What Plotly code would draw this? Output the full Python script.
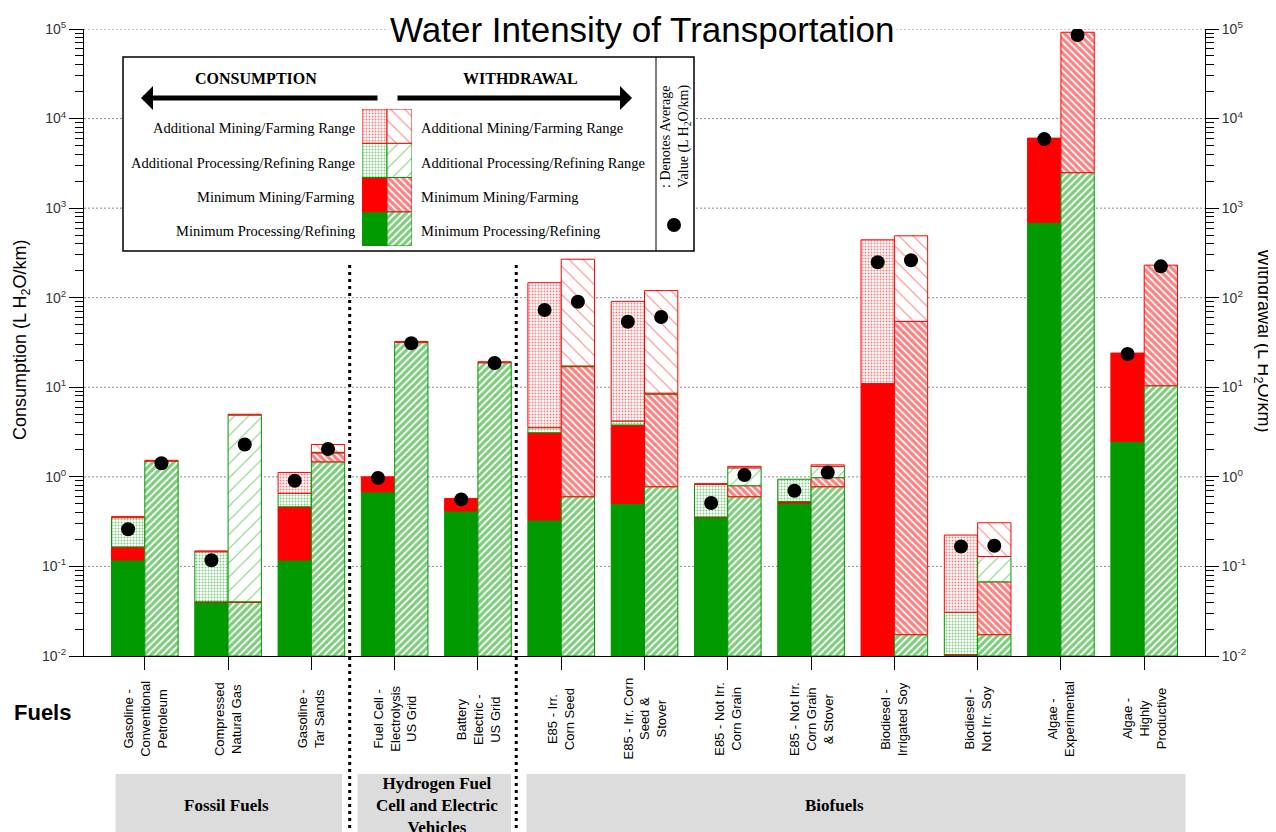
import plotly.graph_objects as go

# ---------------- data ----------------
fuel_labels = [
    "Gasoline -<br>Conventional<br>Petroleum",
    "Compressed<br>Natural Gas",
    "Gasoline -<br>Tar Sands",
    "Fuel Cell -<br>Electrolysis<br>US Grid",
    "Battery<br>Electric -<br>US Grid",
    "E85 - Irr.<br>Corn Seed",
    "E85 - Irr. Corn<br>Seed &<br>Stover",
    "E85 - Not Irr.<br>Corn Grain",
    "E85 - Not Irr.<br>Corn Grain<br>& Stover",
    "Biodiesel -<br>Irrigated Soy",
    "Biodiesel -<br>Not Irr. Soy",
    "Algae -<br>Experimental",
    "Algae -<br>Highly<br>Productive",
]
group_names = ["Fossil Fuels", "Hydrogen Fuel<br>Cell and Electric<br>Vehicles", "Biofuels"]

# Consumption: cumulative tops of each stacked segment (L H2O/km)
cons_min_processing = [0.118, 0.0397, 0.118, 0.68, 0.416, 0.33, 0.506, 0.35, 0.51, 0.01, 0.01, 695, 2.49]
cons_min_mining     = [0.165, 0.0403, 0.464, 1.0, 0.575, 3.11, 3.79, 0.356, 0.53, 11.0, 0.0104, 6050, 24.1]
cons_add_processing = [0.35, 0.146, 0.655, 1.0, 0.575, 3.54, 4.2, 0.825, 0.94, 11.0, 0.0308, 6050, 24.1]
cons_add_mining     = [0.36, 0.149, 1.12, 1.0, 0.575, 147, 91, 0.84, 0.94, 443, 0.224, 6050, 24.1]
cons_average        = [0.26, 0.117, 0.906, 0.97, 0.56, 73, 54, 0.51, 0.70, 249, 0.167, 5900, 23.5]

# Withdrawal: cumulative tops of each stacked segment (L H2O/km)
wd_min_processing = [1.50, 0.0397, 1.47, 31.8, 18.8, 0.60, 0.776, 0.60, 0.776, 0.0173, 0.0173, 2490, 10.4]
wd_min_mining     = [1.53, 0.0403, 1.85, 32.5, 19.3, 17.0, 8.4, 0.796, 0.98, 54.5, 0.0673, 92000, 231]
wd_add_processing = [1.53, 4.9, 1.88, 32.5, 19.3, 17.3, 8.6, 1.26, 1.31, 54.5, 0.129, 92000, 231]
wd_add_mining     = [1.53, 5.0, 2.3, 32.5, 19.3, 269, 120, 1.31, 1.36, 491, 0.307, 92000, 231]
wd_average        = [1.42, 2.3, 2.05, 31, 18.7, 90, 61, 1.05, 1.12, 262, 0.17, 85800, 224]

legend_rows = ["Minimum Processing/Refining", "Minimum Mining/Farming",
               "Additional Processing/Refining Range", "Additional Mining/Farming Range"]

tick_exps = [-2, -1, 0, 1, 2, 3, 4, 5]

# ---------------- styles ----------------
GREEN = "rgb(0,153,0)"
RED = "rgb(255,0,0)"
FLOOR = 0.01
SERIF = "Liberation Serif, Times New Roman, serif"
SANS = "Liberation Sans, Arial, sans-serif"


def mk(kind, col):
    c = GREEN if col == "g" else RED
    if kind == "solid":
        return dict(color=c, line=dict(color=c, width=1))
    if kind == "dots":
        return dict(color="white", line=dict(color=c, width=1),
                    pattern=dict(shape=".", fgcolor=c, bgcolor="white", size=3, solidity=0.35))
    if kind == "dense":
        return dict(color="white", line=dict(color=c, width=1),
                    pattern=dict(shape="/" if col == "g" else "\\", fgcolor=c, bgcolor="white",
                                 size=5, solidity=0.65))
    return dict(color="white", line=dict(color=c, width=1),
                pattern=dict(shape="/" if col == "g" else "\\", fgcolor=c, bgcolor="white",
                             size=10, solidity=0.1))


cons_styles = [mk("solid", "g"), mk("solid", "r"), mk("dots", "g"), mk("dots", "r")]
wd_styles = [mk("dense", "g"), mk("dense", "r"), mk("sparse", "g"), mk("sparse", "r")]

n = len(fuel_labels)
fig = go.Figure()


def add_stack(tops_list, styles, offset, yaxis):
    prev = [FLOOR] * n
    for tops, st in zip(tops_list, styles):
        bases, heights = [], []
        for p, t in zip(prev, tops):
            h = t - p
            if h <= 1e-9:
                bases.append(None)
                heights.append(None)
            else:
                bases.append(p)
                heights.append(h)
        fig.add_trace(go.Bar(x=[i + offset for i in range(n)], y=heights, base=bases,
                             width=0.4, marker=st, yaxis=yaxis, showlegend=False,
                             hoverinfo="skip"))
        prev = [max(p, t) for p, t in zip(prev, tops)]


add_stack([cons_min_processing, cons_min_mining, cons_add_processing, cons_add_mining],
          cons_styles, -0.2, "y")
add_stack([wd_min_processing, wd_min_mining, wd_add_processing, wd_add_mining],
          wd_styles, 0.2, "y2")

fig.add_trace(go.Scatter(x=[i - 0.2 for i in range(n)], y=cons_average, mode="markers",
                         marker=dict(color="black", size=14), yaxis="y", showlegend=False))
fig.add_trace(go.Scatter(x=[i + 0.2 for i in range(n)], y=wd_average, mode="markers",
                         marker=dict(color="black", size=14), yaxis="y2", showlegend=False))

# legend swatches (inset axes)
for row in range(4):
    for col, st in enumerate([cons_styles[row], wd_styles[row]]):
        fig.add_trace(go.Bar(x=[col], y=[1], base=[row], width=1, marker=st,
                             xaxis="x3", yaxis="y3", showlegend=False, hoverinfo="skip"))

# ---------------- geometry helpers (reference-pixel coordinates) ----------------
OFF = 8                       # page body margin
L, R, T, B = 84, 1205, 29, 656
W, H = 1276 - OFF, 832 - OFF


def px(x):
    return (x - L) / (R - L)


def py(y):
    return (B - y) / (B - T)


ticktext = ["10<sup>%d</sup>" % e for e in tick_exps]
tickvals = [10.0 ** e for e in tick_exps]
minor_vals = [m * 10.0 ** e for e in tick_exps[:-1] for m in range(2, 10)]

yax_common = dict(type="log", range=[-2, 5], showline=True, linecolor="black", linewidth=1,
                  ticks="outside", tickcolor="black", tickvals=tickvals, ticktext=ticktext,
                  tickfont=dict(family=SANS, size=14, color="#333333"), showgrid=False,
                  zeroline=False, fixedrange=True,
                  minor=dict(tickvals=minor_vals, ticks="outside", ticklen=8,
                             tickcolor="black", showgrid=False))

shapes = []
# gridlines
for e in tick_exps[1:]:
    shapes.append(dict(type="line", xref="paper", x0=0, x1=1, yref="y", y0=10.0 ** e, y1=10.0 ** e,
                       line=dict(color="#8c8c8c", width=1, dash="2px,2px"), layer="below"))
# legend box
shapes.append(dict(type="rect", xref="paper", yref="paper", x0=px(123), x1=px(694),
                   y0=py(251), y1=py(57), fillcolor="white", line=dict(color="black", width=1.5),
                   layer="below"))
shapes.append(dict(type="line", xref="paper", yref="paper", x0=px(656), x1=px(656),
                   y0=py(251), y1=py(57), line=dict(color="black", width=1)))
shapes.append(dict(type="circle", xref="paper", yref="paper", x0=px(667), x1=px(681),
                   y0=py(232), y1=py(218), fillcolor="black", line=dict(color="black", width=0)))
# group boxes
for x0, x1 in [(115.5, 342), (357.6, 511), (526.5, 1185.5)]:
    shapes.append(dict(type="rect", xref="paper", yref="paper", x0=px(x0), x1=px(x1),
                       y0=py(840), y1=py(774), fillcolor="rgb(220,220,220)",
                       line=dict(width=0), layer="below"))
# dotted separators
for xs in [2.46, 4.46]:
    shapes.append(dict(type="line", xref="x", yref="paper", x0=xs, x1=xs, y0=py(265), y1=py(840),
                       line=dict(color="black", width=3, dash="3px,4px")))

ann = []
ann.append(dict(text="Water Intensity of Transportation", xref="paper", yref="paper",
                x=px(642), y=py(29), xanchor="center", yanchor="middle", showarrow=False,
                font=dict(family=SANS, size=35, color="black"), bgcolor="white"))
ann.append(dict(text="Consumption (L H<sub>2</sub>O/km)", xref="paper", yref="paper",
                x=px(21), y=py(340), textangle=-90, xanchor="center", yanchor="middle",
                showarrow=False, font=dict(family=SANS, size=18, color="black")))
ann.append(dict(text="Withdrawal (L H<sub>2</sub>O/km)", xref="paper", yref="paper",
                x=px(1263), y=py(340), textangle=90, xanchor="center", yanchor="middle",
                showarrow=False, font=dict(family=SANS, size=18, color="black")))
for i, lab in enumerate(fuel_labels):
    ann.append(dict(text=lab, xref="x", yref="paper", x=i, y=py(719), textangle=-90,
                    xanchor="center", yanchor="middle", align="center", showarrow=False,
                    font=dict(family=SANS, size=13, color="black")))
ann.append(dict(text="<b>Fuels</b>", xref="paper", yref="paper", x=px(42), y=py(712),
                xanchor="center", yanchor="middle", showarrow=False,
                font=dict(family=SANS, size=22, color="black")))
for name, xc in zip(group_names, [226, 437, 834]):
    ann.append(dict(text="<b>%s</b>" % name, xref="paper", yref="paper", x=px(xc), y=py(805),
                    xanchor="center", yanchor="middle", align="center", showarrow=False,
                    font=dict(family=SERIF, size=17, color="black")))
# legend texts
ann.append(dict(text="<b>CONSUMPTION</b>", xref="paper", yref="paper", x=px(256), y=py(78),
                xanchor="center", yanchor="middle", showarrow=False,
                font=dict(family=SERIF, size=16, color="black")))
ann.append(dict(text="<b>WITHDRAWAL</b>", xref="paper", yref="paper", x=px(520), y=py(78),
                xanchor="center", yanchor="middle", showarrow=False,
                font=dict(family=SERIF, size=16, color="black")))
ann.append(dict(text="", xref="paper", yref="paper", x=px(141), y=py(98), axref="pixel",
                ayref="pixel", ax=238, ay=0, showarrow=True, arrowhead=1, arrowsize=0.8,
                arrowwidth=5, arrowcolor="black", standoff=0))
ann.append(dict(text="", xref="paper", yref="paper", x=px(632), y=py(98), axref="pixel",
                ayref="pixel", ax=-236, ay=0, showarrow=True, arrowhead=1, arrowsize=0.8,
                arrowwidth=5, arrowcolor="black", standoff=0))
row_y = [231, 197, 163, 128]
for lab, yy in zip(legend_rows, row_y):
    ann.append(dict(text=lab, xref="paper", yref="paper", x=px(357), y=py(yy), xanchor="right",
                    yanchor="middle", showarrow=False, font=dict(family=SERIF, size=14.5, color="black")))
    ann.append(dict(text=lab, xref="paper", yref="paper", x=px(419), y=py(yy), xanchor="left",
                    yanchor="middle", showarrow=False, font=dict(family=SERIF, size=14.5, color="black")))
ann.append(dict(text=": Denotes Average<br>Value (L H<sub>2</sub>O/km)", xref="paper", yref="paper",
                x=px(675), y=py(137), textangle=-90, xanchor="center", yanchor="middle",
                align="left", showarrow=False, font=dict(family=SERIF, size=14, color="black")))

fig.update_layout(
    width=W, height=H, autosize=False,
    margin=dict(l=L - OFF, r=W - (R - OFF), t=T - OFF, b=H - (B - OFF), pad=0),
    paper_bgcolor="white", plot_bgcolor="white",
    barmode="overlay", showlegend=False,
    xaxis=dict(range=[-0.73, 12.73], domain=[0, 1], showline=True, linecolor="black",
               ticks="outside", ticklen=13, tickcolor="black",
               tickvals=list(range(n)), showticklabels=False, showgrid=False,
               zeroline=False, fixedrange=True),
    yaxis=dict(**yax_common, ticklen=14, side="left"),
    yaxis2=dict(**yax_common, ticklen=13, side="right", overlaying="y", anchor="x"),
    xaxis3=dict(domain=[px(362), px(412)], range=[-0.5, 1.5], anchor="y3", visible=False,
                fixedrange=True),
    yaxis3=dict(domain=[py(246), py(109)], range=[0, 4], anchor="x3", visible=False,
                fixedrange=True),
    shapes=shapes, annotations=ann,
)

fig.write_html("out.html")
